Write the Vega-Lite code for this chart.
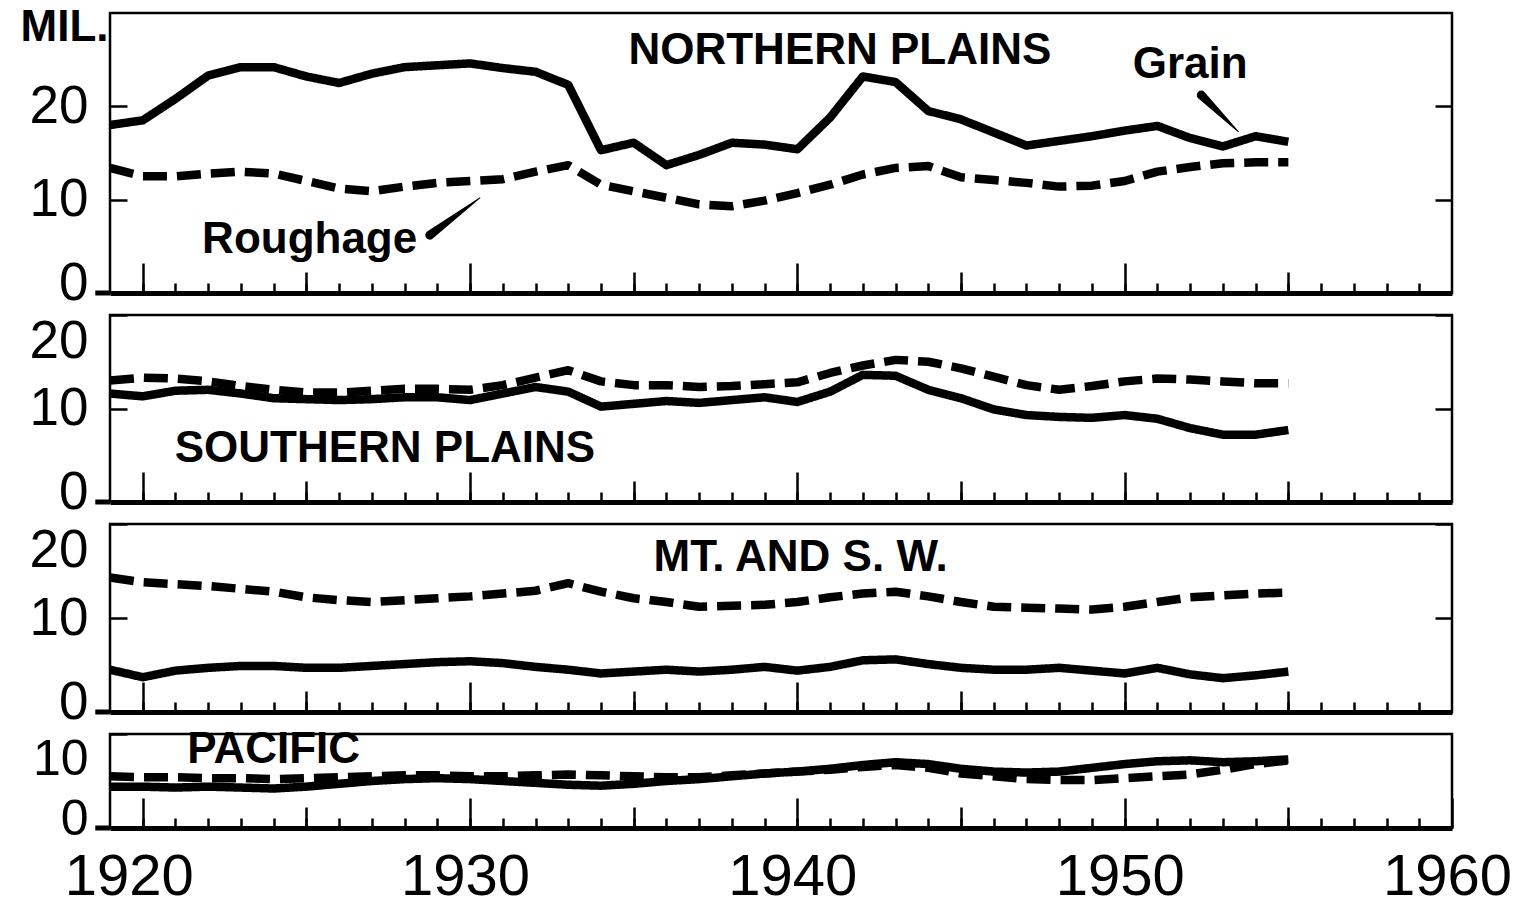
{
"$schema": "https://vega.github.io/schema/vega-lite/v6.json",
"padding": {"left": 18, "top": 3, "right": 10, "bottom": 0},
"background": "white",
"spacing": 22,
"bounds": "flush",
"config": {"view": {"stroke": "black", "strokeWidth": 2.5}, "axis": {"grid": false, "labelColor": "black", "tickColor": "black", "titleColor": "black", "labelFont": "Liberation Sans"}},
"datasets": {
"series": [
{"reg":"NP","feed":"Grain","year":1919,"mil":18.0},{"reg":"NP","feed":"Grain","year":1920,"mil":18.5},{"reg":"NP","feed":"Grain","year":1921,"mil":20.8},{"reg":"NP","feed":"Grain","year":1922,"mil":23.3},{"reg":"NP","feed":"Grain","year":1923,"mil":24.2},{"reg":"NP","feed":"Grain","year":1924,"mil":24.2},{"reg":"NP","feed":"Grain","year":1925,"mil":23.2},{"reg":"NP","feed":"Grain","year":1926,"mil":22.5},{"reg":"NP","feed":"Grain","year":1927,"mil":23.5},{"reg":"NP","feed":"Grain","year":1928,"mil":24.2},{"reg":"NP","feed":"Grain","year":1929,"mil":24.4},{"reg":"NP","feed":"Grain","year":1930,"mil":24.6},{"reg":"NP","feed":"Grain","year":1931,"mil":24.1},{"reg":"NP","feed":"Grain","year":1932,"mil":23.7},{"reg":"NP","feed":"Grain","year":1933,"mil":22.3},{"reg":"NP","feed":"Grain","year":1934,"mil":15.3},{"reg":"NP","feed":"Grain","year":1935,"mil":16.1},{"reg":"NP","feed":"Grain","year":1936,"mil":13.7},{"reg":"NP","feed":"Grain","year":1937,"mil":14.8},{"reg":"NP","feed":"Grain","year":1938,"mil":16.1},{"reg":"NP","feed":"Grain","year":1939,"mil":15.9},{"reg":"NP","feed":"Grain","year":1940,"mil":15.4},{"reg":"NP","feed":"Grain","year":1941,"mil":18.8},{"reg":"NP","feed":"Grain","year":1942,"mil":23.2},{"reg":"NP","feed":"Grain","year":1943,"mil":22.6},{"reg":"NP","feed":"Grain","year":1944,"mil":19.5},{"reg":"NP","feed":"Grain","year":1945,"mil":18.6},{"reg":"NP","feed":"Grain","year":1946,"mil":17.2},{"reg":"NP","feed":"Grain","year":1947,"mil":15.8},{"reg":"NP","feed":"Grain","year":1948,"mil":16.3},{"reg":"NP","feed":"Grain","year":1949,"mil":16.8},{"reg":"NP","feed":"Grain","year":1950,"mil":17.4},{"reg":"NP","feed":"Grain","year":1951,"mil":17.9},{"reg":"NP","feed":"Grain","year":1952,"mil":16.6},{"reg":"NP","feed":"Grain","year":1953,"mil":15.7},{"reg":"NP","feed":"Grain","year":1954,"mil":16.8},{"reg":"NP","feed":"Grain","year":1955,"mil":16.2},
{"reg":"NP","feed":"Roughage","year":1919,"mil":13.4},{"reg":"NP","feed":"Roughage","year":1920,"mil":12.5},{"reg":"NP","feed":"Roughage","year":1921,"mil":12.5},{"reg":"NP","feed":"Roughage","year":1922,"mil":12.8},{"reg":"NP","feed":"Roughage","year":1923,"mil":13.0},{"reg":"NP","feed":"Roughage","year":1924,"mil":12.8},{"reg":"NP","feed":"Roughage","year":1925,"mil":12.0},{"reg":"NP","feed":"Roughage","year":1926,"mil":11.2},{"reg":"NP","feed":"Roughage","year":1927,"mil":10.9},{"reg":"NP","feed":"Roughage","year":1928,"mil":11.4},{"reg":"NP","feed":"Roughage","year":1929,"mil":11.8},{"reg":"NP","feed":"Roughage","year":1930,"mil":12.0},{"reg":"NP","feed":"Roughage","year":1931,"mil":12.2},{"reg":"NP","feed":"Roughage","year":1932,"mil":13.0},{"reg":"NP","feed":"Roughage","year":1933,"mil":13.7},{"reg":"NP","feed":"Roughage","year":1934,"mil":11.6},{"reg":"NP","feed":"Roughage","year":1935,"mil":10.9},{"reg":"NP","feed":"Roughage","year":1936,"mil":10.2},{"reg":"NP","feed":"Roughage","year":1937,"mil":9.5},{"reg":"NP","feed":"Roughage","year":1938,"mil":9.3},{"reg":"NP","feed":"Roughage","year":1939,"mil":9.9},{"reg":"NP","feed":"Roughage","year":1940,"mil":10.7},{"reg":"NP","feed":"Roughage","year":1941,"mil":11.6},{"reg":"NP","feed":"Roughage","year":1942,"mil":12.7},{"reg":"NP","feed":"Roughage","year":1943,"mil":13.4},{"reg":"NP","feed":"Roughage","year":1944,"mil":13.6},{"reg":"NP","feed":"Roughage","year":1945,"mil":12.4},{"reg":"NP","feed":"Roughage","year":1946,"mil":12.1},{"reg":"NP","feed":"Roughage","year":1947,"mil":11.8},{"reg":"NP","feed":"Roughage","year":1948,"mil":11.4},{"reg":"NP","feed":"Roughage","year":1949,"mil":11.5},{"reg":"NP","feed":"Roughage","year":1950,"mil":12.0},{"reg":"NP","feed":"Roughage","year":1951,"mil":13.0},{"reg":"NP","feed":"Roughage","year":1952,"mil":13.5},{"reg":"NP","feed":"Roughage","year":1953,"mil":13.9},{"reg":"NP","feed":"Roughage","year":1954,"mil":14.0},{"reg":"NP","feed":"Roughage","year":1955,"mil":14.0},
{"reg":"SP","feed":"Grain","year":1919,"mil":11.6},{"reg":"SP","feed":"Grain","year":1920,"mil":11.3},{"reg":"SP","feed":"Grain","year":1921,"mil":11.9},{"reg":"SP","feed":"Grain","year":1922,"mil":12.0},{"reg":"SP","feed":"Grain","year":1923,"mil":11.6},{"reg":"SP","feed":"Grain","year":1924,"mil":11.1},{"reg":"SP","feed":"Grain","year":1925,"mil":11.0},{"reg":"SP","feed":"Grain","year":1926,"mil":10.9},{"reg":"SP","feed":"Grain","year":1927,"mil":11.0},{"reg":"SP","feed":"Grain","year":1928,"mil":11.2},{"reg":"SP","feed":"Grain","year":1929,"mil":11.2},{"reg":"SP","feed":"Grain","year":1930,"mil":10.9},{"reg":"SP","feed":"Grain","year":1931,"mil":11.6},{"reg":"SP","feed":"Grain","year":1932,"mil":12.3},{"reg":"SP","feed":"Grain","year":1933,"mil":11.8},{"reg":"SP","feed":"Grain","year":1934,"mil":10.2},{"reg":"SP","feed":"Grain","year":1935,"mil":10.5},{"reg":"SP","feed":"Grain","year":1936,"mil":10.8},{"reg":"SP","feed":"Grain","year":1937,"mil":10.6},{"reg":"SP","feed":"Grain","year":1938,"mil":10.9},{"reg":"SP","feed":"Grain","year":1939,"mil":11.2},{"reg":"SP","feed":"Grain","year":1940,"mil":10.7},{"reg":"SP","feed":"Grain","year":1941,"mil":11.8},{"reg":"SP","feed":"Grain","year":1942,"mil":13.6},{"reg":"SP","feed":"Grain","year":1943,"mil":13.5},{"reg":"SP","feed":"Grain","year":1944,"mil":12.0},{"reg":"SP","feed":"Grain","year":1945,"mil":11.1},{"reg":"SP","feed":"Grain","year":1946,"mil":9.9},{"reg":"SP","feed":"Grain","year":1947,"mil":9.3},{"reg":"SP","feed":"Grain","year":1948,"mil":9.1},{"reg":"SP","feed":"Grain","year":1949,"mil":9.0},{"reg":"SP","feed":"Grain","year":1950,"mil":9.3},{"reg":"SP","feed":"Grain","year":1951,"mil":8.9},{"reg":"SP","feed":"Grain","year":1952,"mil":7.9},{"reg":"SP","feed":"Grain","year":1953,"mil":7.2},{"reg":"SP","feed":"Grain","year":1954,"mil":7.2},{"reg":"SP","feed":"Grain","year":1955,"mil":7.7},
{"reg":"SP","feed":"Roughage","year":1919,"mil":13.0},{"reg":"SP","feed":"Roughage","year":1920,"mil":13.3},{"reg":"SP","feed":"Roughage","year":1921,"mil":13.2},{"reg":"SP","feed":"Roughage","year":1922,"mil":12.9},{"reg":"SP","feed":"Roughage","year":1923,"mil":12.4},{"reg":"SP","feed":"Roughage","year":1924,"mil":12.0},{"reg":"SP","feed":"Roughage","year":1925,"mil":11.7},{"reg":"SP","feed":"Roughage","year":1926,"mil":11.7},{"reg":"SP","feed":"Roughage","year":1927,"mil":11.9},{"reg":"SP","feed":"Roughage","year":1928,"mil":12.1},{"reg":"SP","feed":"Roughage","year":1929,"mil":12.1},{"reg":"SP","feed":"Roughage","year":1930,"mil":12.0},{"reg":"SP","feed":"Roughage","year":1931,"mil":12.5},{"reg":"SP","feed":"Roughage","year":1932,"mil":13.3},{"reg":"SP","feed":"Roughage","year":1933,"mil":14.1},{"reg":"SP","feed":"Roughage","year":1934,"mil":12.9},{"reg":"SP","feed":"Roughage","year":1935,"mil":12.5},{"reg":"SP","feed":"Roughage","year":1936,"mil":12.5},{"reg":"SP","feed":"Roughage","year":1937,"mil":12.3},{"reg":"SP","feed":"Roughage","year":1938,"mil":12.4},{"reg":"SP","feed":"Roughage","year":1939,"mil":12.6},{"reg":"SP","feed":"Roughage","year":1940,"mil":12.8},{"reg":"SP","feed":"Roughage","year":1941,"mil":13.8},{"reg":"SP","feed":"Roughage","year":1942,"mil":14.6},{"reg":"SP","feed":"Roughage","year":1943,"mil":15.2},{"reg":"SP","feed":"Roughage","year":1944,"mil":15.0},{"reg":"SP","feed":"Roughage","year":1945,"mil":14.3},{"reg":"SP","feed":"Roughage","year":1946,"mil":13.4},{"reg":"SP","feed":"Roughage","year":1947,"mil":12.5},{"reg":"SP","feed":"Roughage","year":1948,"mil":12.0},{"reg":"SP","feed":"Roughage","year":1949,"mil":12.4},{"reg":"SP","feed":"Roughage","year":1950,"mil":12.9},{"reg":"SP","feed":"Roughage","year":1951,"mil":13.2},{"reg":"SP","feed":"Roughage","year":1952,"mil":13.1},{"reg":"SP","feed":"Roughage","year":1953,"mil":12.9},{"reg":"SP","feed":"Roughage","year":1954,"mil":12.7},{"reg":"SP","feed":"Roughage","year":1955,"mil":12.7},
{"reg":"MSW","feed":"Grain","year":1919,"mil":4.5},{"reg":"MSW","feed":"Grain","year":1920,"mil":3.7},{"reg":"MSW","feed":"Grain","year":1921,"mil":4.4},{"reg":"MSW","feed":"Grain","year":1922,"mil":4.7},{"reg":"MSW","feed":"Grain","year":1923,"mil":4.9},{"reg":"MSW","feed":"Grain","year":1924,"mil":4.9},{"reg":"MSW","feed":"Grain","year":1925,"mil":4.7},{"reg":"MSW","feed":"Grain","year":1926,"mil":4.7},{"reg":"MSW","feed":"Grain","year":1927,"mil":4.9},{"reg":"MSW","feed":"Grain","year":1928,"mil":5.1},{"reg":"MSW","feed":"Grain","year":1929,"mil":5.3},{"reg":"MSW","feed":"Grain","year":1930,"mil":5.4},{"reg":"MSW","feed":"Grain","year":1931,"mil":5.2},{"reg":"MSW","feed":"Grain","year":1932,"mil":4.8},{"reg":"MSW","feed":"Grain","year":1933,"mil":4.5},{"reg":"MSW","feed":"Grain","year":1934,"mil":4.1},{"reg":"MSW","feed":"Grain","year":1935,"mil":4.3},{"reg":"MSW","feed":"Grain","year":1936,"mil":4.5},{"reg":"MSW","feed":"Grain","year":1937,"mil":4.3},{"reg":"MSW","feed":"Grain","year":1938,"mil":4.5},{"reg":"MSW","feed":"Grain","year":1939,"mil":4.8},{"reg":"MSW","feed":"Grain","year":1940,"mil":4.4},{"reg":"MSW","feed":"Grain","year":1941,"mil":4.8},{"reg":"MSW","feed":"Grain","year":1942,"mil":5.5},{"reg":"MSW","feed":"Grain","year":1943,"mil":5.6},{"reg":"MSW","feed":"Grain","year":1944,"mil":5.1},{"reg":"MSW","feed":"Grain","year":1945,"mil":4.7},{"reg":"MSW","feed":"Grain","year":1946,"mil":4.5},{"reg":"MSW","feed":"Grain","year":1947,"mil":4.5},{"reg":"MSW","feed":"Grain","year":1948,"mil":4.7},{"reg":"MSW","feed":"Grain","year":1949,"mil":4.4},{"reg":"MSW","feed":"Grain","year":1950,"mil":4.1},{"reg":"MSW","feed":"Grain","year":1951,"mil":4.7},{"reg":"MSW","feed":"Grain","year":1952,"mil":4.0},{"reg":"MSW","feed":"Grain","year":1953,"mil":3.6},{"reg":"MSW","feed":"Grain","year":1954,"mil":3.9},{"reg":"MSW","feed":"Grain","year":1955,"mil":4.3},
{"reg":"MSW","feed":"Roughage","year":1919,"mil":14.3},{"reg":"MSW","feed":"Roughage","year":1920,"mil":13.8},{"reg":"MSW","feed":"Roughage","year":1921,"mil":13.6},{"reg":"MSW","feed":"Roughage","year":1922,"mil":13.4},{"reg":"MSW","feed":"Roughage","year":1923,"mil":13.1},{"reg":"MSW","feed":"Roughage","year":1924,"mil":12.8},{"reg":"MSW","feed":"Roughage","year":1925,"mil":12.2},{"reg":"MSW","feed":"Roughage","year":1926,"mil":11.9},{"reg":"MSW","feed":"Roughage","year":1927,"mil":11.7},{"reg":"MSW","feed":"Roughage","year":1928,"mil":11.9},{"reg":"MSW","feed":"Roughage","year":1929,"mil":12.1},{"reg":"MSW","feed":"Roughage","year":1930,"mil":12.3},{"reg":"MSW","feed":"Roughage","year":1931,"mil":12.6},{"reg":"MSW","feed":"Roughage","year":1932,"mil":12.9},{"reg":"MSW","feed":"Roughage","year":1933,"mil":13.7},{"reg":"MSW","feed":"Roughage","year":1934,"mil":12.8},{"reg":"MSW","feed":"Roughage","year":1935,"mil":12.1},{"reg":"MSW","feed":"Roughage","year":1936,"mil":11.7},{"reg":"MSW","feed":"Roughage","year":1937,"mil":11.2},{"reg":"MSW","feed":"Roughage","year":1938,"mil":11.3},{"reg":"MSW","feed":"Roughage","year":1939,"mil":11.4},{"reg":"MSW","feed":"Roughage","year":1940,"mil":11.7},{"reg":"MSW","feed":"Roughage","year":1941,"mil":12.2},{"reg":"MSW","feed":"Roughage","year":1942,"mil":12.6},{"reg":"MSW","feed":"Roughage","year":1943,"mil":12.8},{"reg":"MSW","feed":"Roughage","year":1944,"mil":12.3},{"reg":"MSW","feed":"Roughage","year":1945,"mil":11.7},{"reg":"MSW","feed":"Roughage","year":1946,"mil":11.2},{"reg":"MSW","feed":"Roughage","year":1947,"mil":11.1},{"reg":"MSW","feed":"Roughage","year":1948,"mil":11.0},{"reg":"MSW","feed":"Roughage","year":1949,"mil":10.9},{"reg":"MSW","feed":"Roughage","year":1950,"mil":11.2},{"reg":"MSW","feed":"Roughage","year":1951,"mil":11.7},{"reg":"MSW","feed":"Roughage","year":1952,"mil":12.2},{"reg":"MSW","feed":"Roughage","year":1953,"mil":12.4},{"reg":"MSW","feed":"Roughage","year":1954,"mil":12.6},{"reg":"MSW","feed":"Roughage","year":1955,"mil":12.7},
{"reg":"PAC","feed":"Grain","year":1919,"mil":4.4},{"reg":"PAC","feed":"Grain","year":1920,"mil":4.4},{"reg":"PAC","feed":"Grain","year":1921,"mil":4.3},{"reg":"PAC","feed":"Grain","year":1922,"mil":4.4},{"reg":"PAC","feed":"Grain","year":1923,"mil":4.3},{"reg":"PAC","feed":"Grain","year":1924,"mil":4.2},{"reg":"PAC","feed":"Grain","year":1925,"mil":4.4},{"reg":"PAC","feed":"Grain","year":1926,"mil":4.7},{"reg":"PAC","feed":"Grain","year":1927,"mil":5.0},{"reg":"PAC","feed":"Grain","year":1928,"mil":5.2},{"reg":"PAC","feed":"Grain","year":1929,"mil":5.3},{"reg":"PAC","feed":"Grain","year":1930,"mil":5.2},{"reg":"PAC","feed":"Grain","year":1931,"mil":5.0},{"reg":"PAC","feed":"Grain","year":1932,"mil":4.8},{"reg":"PAC","feed":"Grain","year":1933,"mil":4.6},{"reg":"PAC","feed":"Grain","year":1934,"mil":4.5},{"reg":"PAC","feed":"Grain","year":1935,"mil":4.7},{"reg":"PAC","feed":"Grain","year":1936,"mil":5.0},{"reg":"PAC","feed":"Grain","year":1937,"mil":5.2},{"reg":"PAC","feed":"Grain","year":1938,"mil":5.5},{"reg":"PAC","feed":"Grain","year":1939,"mil":5.8},{"reg":"PAC","feed":"Grain","year":1940,"mil":6.0},{"reg":"PAC","feed":"Grain","year":1941,"mil":6.3},{"reg":"PAC","feed":"Grain","year":1942,"mil":6.7},{"reg":"PAC","feed":"Grain","year":1943,"mil":7.0},{"reg":"PAC","feed":"Grain","year":1944,"mil":6.8},{"reg":"PAC","feed":"Grain","year":1945,"mil":6.3},{"reg":"PAC","feed":"Grain","year":1946,"mil":6.0},{"reg":"PAC","feed":"Grain","year":1947,"mil":5.9},{"reg":"PAC","feed":"Grain","year":1948,"mil":6.0},{"reg":"PAC","feed":"Grain","year":1949,"mil":6.4},{"reg":"PAC","feed":"Grain","year":1950,"mil":6.8},{"reg":"PAC","feed":"Grain","year":1951,"mil":7.1},{"reg":"PAC","feed":"Grain","year":1952,"mil":7.2},{"reg":"PAC","feed":"Grain","year":1953,"mil":7.0},{"reg":"PAC","feed":"Grain","year":1954,"mil":7.1},{"reg":"PAC","feed":"Grain","year":1955,"mil":7.3},
{"reg":"PAC","feed":"Roughage","year":1919,"mil":5.5},{"reg":"PAC","feed":"Roughage","year":1920,"mil":5.4},{"reg":"PAC","feed":"Roughage","year":1921,"mil":5.4},{"reg":"PAC","feed":"Roughage","year":1922,"mil":5.3},{"reg":"PAC","feed":"Roughage","year":1923,"mil":5.3},{"reg":"PAC","feed":"Roughage","year":1924,"mil":5.2},{"reg":"PAC","feed":"Roughage","year":1925,"mil":5.3},{"reg":"PAC","feed":"Roughage","year":1926,"mil":5.4},{"reg":"PAC","feed":"Roughage","year":1927,"mil":5.5},{"reg":"PAC","feed":"Roughage","year":1928,"mil":5.6},{"reg":"PAC","feed":"Roughage","year":1929,"mil":5.6},{"reg":"PAC","feed":"Roughage","year":1930,"mil":5.5},{"reg":"PAC","feed":"Roughage","year":1931,"mil":5.5},{"reg":"PAC","feed":"Roughage","year":1932,"mil":5.6},{"reg":"PAC","feed":"Roughage","year":1933,"mil":5.7},{"reg":"PAC","feed":"Roughage","year":1934,"mil":5.6},{"reg":"PAC","feed":"Roughage","year":1935,"mil":5.5},{"reg":"PAC","feed":"Roughage","year":1936,"mil":5.4},{"reg":"PAC","feed":"Roughage","year":1937,"mil":5.4},{"reg":"PAC","feed":"Roughage","year":1938,"mil":5.6},{"reg":"PAC","feed":"Roughage","year":1939,"mil":5.8},{"reg":"PAC","feed":"Roughage","year":1940,"mil":6.0},{"reg":"PAC","feed":"Roughage","year":1941,"mil":6.2},{"reg":"PAC","feed":"Roughage","year":1942,"mil":6.5},{"reg":"PAC","feed":"Roughage","year":1943,"mil":6.7},{"reg":"PAC","feed":"Roughage","year":1944,"mil":6.4},{"reg":"PAC","feed":"Roughage","year":1945,"mil":5.8},{"reg":"PAC","feed":"Roughage","year":1946,"mil":5.5},{"reg":"PAC","feed":"Roughage","year":1947,"mil":5.2},{"reg":"PAC","feed":"Roughage","year":1948,"mil":5.1},{"reg":"PAC","feed":"Roughage","year":1949,"mil":5.1},{"reg":"PAC","feed":"Roughage","year":1950,"mil":5.3},{"reg":"PAC","feed":"Roughage","year":1951,"mil":5.5},{"reg":"PAC","feed":"Roughage","year":1952,"mil":5.7},{"reg":"PAC","feed":"Roughage","year":1953,"mil":6.2},{"reg":"PAC","feed":"Roughage","year":1954,"mil":6.8},{"reg":"PAC","feed":"Roughage","year":1955,"mil":7.2}
],
"notes": [
{"reg":"NP","label":"NORTHERN PLAINS","year":1941.3,"mil":25.9},
{"reg":"NP","label":"Grain","year":1952.0,"mil":24.4},
{"reg":"NP","label":"Roughage","year":1925.1,"mil":5.7},
{"reg":"SP","label":"SOUTHERN PLAINS","year":1927.4,"mil":5.7},
{"reg":"MSW","label":"MT. AND S. W.","year":1940.1,"mil":16.4},
{"reg":"PAC","label":"PACIFIC","year":1924.0,"mil":8.3}
],
"pointers": [
{"reg":"NP","ptr":"Grain","part":"base","year":1952.34,"mil":21.2},
{"reg":"NP","ptr":"Grain","part":"tip","year":1953.47,"mil":17.3},
{"reg":"NP","ptr":"Roughage","part":"base","year":1928.77,"mil":6.2},
{"reg":"NP","ptr":"Roughage","part":"tip","year":1930.3,"mil":10.2}
]
},
"vconcat": [
{
"width": 1342, "height": 280,
"resolve": {"axis": {"x": "independent", "y": "independent"}},
"layer": [
{"data": {"name": "series"}, "transform": [{"filter": "datum.reg == 'NP'"}],
 "mark": {"type": "line", "color": "black", "strokeWidth": 8.5, "strokeJoin": "round"},
 "encoding": {
  "x": {"field": "year", "type": "quantitative", "scale": {"domain": [1919, 1960], "nice": false, "zero": false},
   "axis": {"orient": "bottom", "values": [1920,1921,1922,1923,1924,1925,1926,1927,1928,1929,1930,1931,1932,1933,1934,1935,1936,1937,1938,1939,1940,1941,1942,1943,1944,1945,1946,1947,1948,1949,1950,1951,1952,1953,1954,1955,1956,1957,1958,1959], "labels": false, "title": null, "domain": true, "domainWidth": 5, "domainColor": "black", "tickSize": -10, "tickWidth": 2.5}},
  "y": {"field": "mil", "type": "quantitative", "scale": {"domain": [0, 30], "nice": false},
   "axis": {"values": [0, 10, 20], "tickSize": -17, "tickWidth": 2.5, "domain": false, "labelFontSize": 53, "labelPadding": 39,
    "labelOffset": {"condition": {"test": "datum.value == 0", "value": -10}, "value": 0},
    "title": "MIL.", "titleAngle": 0, "titleFontSize": 44, "titleFontWeight": "bold", "titleFont": "Liberation Sans", "titleAlign": "left", "titleBaseline": "alphabetic", "titleX": -90, "titleY": 27}},
  "strokeDash": {"field": "feed", "type": "nominal", "scale": {"domain": ["Grain", "Roughage"], "range": [[1, 0], [24, 10]]}, "legend": null}
 }},
{"data": {"name": "pointers"}, "transform": [{"filter": "datum.reg == 'NP'"}],
 "mark": {"type": "trail", "color": "black"},
 "encoding": {
  "x": {"field": "year", "type": "quantitative", "scale": {"domain": [1919, 1960], "nice": false, "zero": false}, "axis": null},
  "y": {"field": "mil", "type": "quantitative", "scale": {"domain": [0, 30], "nice": false}, "axis": null},
  "detail": {"field": "ptr", "type": "nominal"},
  "size": {"field": "part", "type": "ordinal", "scale": {"domain": ["base", "tip"], "range": [9, 1]}, "legend": null}
 }},
{"data": {"name": "notes"}, "transform": [{"filter": "datum.reg == 'NP'"}],
 "mark": {"type": "text", "fontSize": 44, "fontWeight": "bold", "font": "Liberation Sans", "color": "black"},
 "encoding": {
  "x": {"field": "year", "type": "quantitative", "scale": {"domain": [1919, 1960], "nice": false, "zero": false},
   "axis": {"orient": "bottom", "values": [1925, 1935, 1945, 1955], "labels": false, "title": null, "domain": false, "tickSize": -21, "tickWidth": 2.5}},
  "y": {"field": "mil", "type": "quantitative", "scale": {"domain": [0, 30], "nice": false},
   "axis": {"orient": "right", "values": [10, 20], "labels": false, "tickSize": -17, "tickWidth": 2.5, "title": null, "domain": false}},
  "text": {"field": "label"}
 }},
{"data": {"values": [{}]},
 "mark": {"type": "rule", "color": "black", "strokeWidth": 5},
 "encoding": {"x": {"datum": 1918.55, "scale": {"domain": [1919, 1960], "nice": false, "zero": false},
   "axis": {"orient": "bottom", "values": [1920, 1930, 1940, 1950], "labels": false, "title": null, "domain": false, "tickSize": -30, "tickWidth": 2.5}},
  "x2": {"datum": 1919}, "y": {"datum": 0, "axis": null}}}
]
},
{
"width": 1342, "height": 187,
"resolve": {"axis": {"x": "independent", "y": "independent"}},
"layer": [
{"data": {"name": "series"}, "transform": [{"filter": "datum.reg == 'SP'"}],
 "mark": {"type": "line", "color": "black", "strokeWidth": 8.5, "strokeJoin": "round"},
 "encoding": {
  "x": {"field": "year", "type": "quantitative", "scale": {"domain": [1919, 1960], "nice": false, "zero": false},
   "axis": {"orient": "bottom", "values": [1920,1921,1922,1923,1924,1925,1926,1927,1928,1929,1930,1931,1932,1933,1934,1935,1936,1937,1938,1939,1940,1941,1942,1943,1944,1945,1946,1947,1948,1949,1950,1951,1952,1953,1954,1955,1956,1957,1958,1959], "labels": false, "title": null, "domain": true, "domainWidth": 5, "domainColor": "black", "tickSize": -10, "tickWidth": 2.5}},
  "y": {"field": "mil", "type": "quantitative", "scale": {"domain": [0, 20], "nice": false},
   "axis": {"values": [0, 10, 20], "tickSize": -17, "tickWidth": 2.5, "domain": false, "labelFontSize": 53, "labelPadding": 39, "title": null,
    "labelOffset": {"condition": {"test": "datum.value == 0", "value": -10}, "value": 0},
    "labelBaseline": {"condition": {"test": "datum.value == 20", "value": "top"}, "value": "middle"}}},
  "strokeDash": {"field": "feed", "type": "nominal", "scale": {"domain": ["Grain", "Roughage"], "range": [[1, 0], [24, 10]]}, "legend": null}
 }},
{"data": {"name": "notes"}, "transform": [{"filter": "datum.reg == 'SP'"}],
 "mark": {"type": "text", "fontSize": 44, "fontWeight": "bold", "font": "Liberation Sans", "color": "black"},
 "encoding": {
  "x": {"field": "year", "type": "quantitative", "scale": {"domain": [1919, 1960], "nice": false, "zero": false},
   "axis": {"orient": "bottom", "values": [1925, 1935, 1945, 1955], "labels": false, "title": null, "domain": false, "tickSize": -21, "tickWidth": 2.5}},
  "y": {"field": "mil", "type": "quantitative", "scale": {"domain": [0, 20], "nice": false},
   "axis": {"orient": "right", "values": [10, 20], "labels": false, "tickSize": -17, "tickWidth": 2.5, "title": null, "domain": false}},
  "text": {"field": "label"}
 }},
{"data": {"values": [{}]},
 "mark": {"type": "rule", "color": "black", "strokeWidth": 5},
 "encoding": {"x": {"datum": 1918.55, "scale": {"domain": [1919, 1960], "nice": false, "zero": false},
   "axis": {"orient": "bottom", "values": [1920, 1930, 1940, 1950], "labels": false, "title": null, "domain": false, "tickSize": -30, "tickWidth": 2.5}},
  "x2": {"datum": 1919}, "y": {"datum": 0, "axis": null}}}
]
},
{
"width": 1342, "height": 188,
"resolve": {"axis": {"x": "independent", "y": "independent"}},
"layer": [
{"data": {"name": "series"}, "transform": [{"filter": "datum.reg == 'MSW'"}],
 "mark": {"type": "line", "color": "black", "strokeWidth": 8.5, "strokeJoin": "round"},
 "encoding": {
  "x": {"field": "year", "type": "quantitative", "scale": {"domain": [1919, 1960], "nice": false, "zero": false},
   "axis": {"orient": "bottom", "values": [1920,1921,1922,1923,1924,1925,1926,1927,1928,1929,1930,1931,1932,1933,1934,1935,1936,1937,1938,1939,1940,1941,1942,1943,1944,1945,1946,1947,1948,1949,1950,1951,1952,1953,1954,1955,1956,1957,1958,1959], "labels": false, "title": null, "domain": true, "domainWidth": 5, "domainColor": "black", "tickSize": -10, "tickWidth": 2.5}},
  "y": {"field": "mil", "type": "quantitative", "scale": {"domain": [0, 20], "nice": false},
   "axis": {"values": [0, 10, 20], "tickSize": -17, "tickWidth": 2.5, "domain": false, "labelFontSize": 53, "labelPadding": 39, "title": null,
    "labelOffset": {"condition": {"test": "datum.value == 0", "value": -10}, "value": 0},
    "labelBaseline": {"condition": {"test": "datum.value == 20", "value": "top"}, "value": "middle"}}},
  "strokeDash": {"field": "feed", "type": "nominal", "scale": {"domain": ["Grain", "Roughage"], "range": [[1, 0], [24, 10]]}, "legend": null}
 }},
{"data": {"name": "notes"}, "transform": [{"filter": "datum.reg == 'MSW'"}],
 "mark": {"type": "text", "fontSize": 44, "fontWeight": "bold", "font": "Liberation Sans", "color": "black"},
 "encoding": {
  "x": {"field": "year", "type": "quantitative", "scale": {"domain": [1919, 1960], "nice": false, "zero": false},
   "axis": {"orient": "bottom", "values": [1925, 1935, 1945, 1955], "labels": false, "title": null, "domain": false, "tickSize": -21, "tickWidth": 2.5}},
  "y": {"field": "mil", "type": "quantitative", "scale": {"domain": [0, 20], "nice": false},
   "axis": {"orient": "right", "values": [10, 20], "labels": false, "tickSize": -17, "tickWidth": 2.5, "title": null, "domain": false}},
  "text": {"field": "label"}
 }},
{"data": {"values": [{}]},
 "mark": {"type": "rule", "color": "black", "strokeWidth": 5},
 "encoding": {"x": {"datum": 1918.55, "scale": {"domain": [1919, 1960], "nice": false, "zero": false},
   "axis": {"orient": "bottom", "values": [1920, 1930, 1940, 1950], "labels": false, "title": null, "domain": false, "tickSize": -30, "tickWidth": 2.5}},
  "x2": {"datum": 1919}, "y": {"datum": 0, "axis": null}}}
]
},
{
"width": 1342, "height": 94,
"resolve": {"axis": {"x": "independent", "y": "independent"}},
"layer": [
{"data": {"name": "series"}, "transform": [{"filter": "datum.reg == 'PAC'"}],
 "mark": {"type": "line", "color": "black", "strokeWidth": 8.5, "strokeJoin": "round"},
 "encoding": {
  "x": {"field": "year", "type": "quantitative", "scale": {"domain": [1919, 1960], "nice": false, "zero": false},
   "axis": {"orient": "bottom", "values": [1920,1921,1922,1923,1924,1925,1926,1927,1928,1929,1930,1931,1932,1933,1934,1935,1936,1937,1938,1939,1940,1941,1942,1943,1944,1945,1946,1947,1948,1949,1950,1951,1952,1953,1954,1955,1956,1957,1958,1959], "labels": false, "title": null, "domain": true, "domainWidth": 5, "domainColor": "black", "tickSize": -10, "tickWidth": 2.5}},
  "y": {"field": "mil", "type": "quantitative", "scale": {"domain": [0, 10], "nice": false},
   "axis": {"values": [0, 10], "tickSize": -17, "tickWidth": 2.5, "domain": false, "labelFontSize": 50, "labelPadding": 39, "title": null,
    "labelOffset": {"condition": {"test": "datum.value == 0", "value": -9}, "value": 0},
    "labelBaseline": {"condition": {"test": "datum.value == 10", "value": "top"}, "value": "middle"}}},
  "strokeDash": {"field": "feed", "type": "nominal", "scale": {"domain": ["Grain", "Roughage"], "range": [[1, 0], [24, 10]]}, "legend": null}
 }},
{"data": {"name": "notes"}, "transform": [{"filter": "datum.reg == 'PAC'"}],
 "mark": {"type": "text", "fontSize": 44, "fontWeight": "bold", "font": "Liberation Sans", "color": "black"},
 "encoding": {
  "x": {"field": "year", "type": "quantitative", "scale": {"domain": [1919, 1960], "nice": false, "zero": false},
   "axis": {"orient": "bottom", "values": [1925, 1935, 1945, 1955], "labels": false, "title": null, "domain": false, "tickSize": -21, "tickWidth": 2.5}},
  "y": {"field": "mil", "type": "quantitative", "scale": {"domain": [0, 10], "nice": false}, "axis": null},
  "text": {"field": "label"}
 }},
{"data": {"values": [{}]},
 "mark": {"type": "rule", "color": "black", "strokeWidth": 5},
 "encoding": {"x": {"datum": 1918.55, "scale": {"domain": [1919, 1960], "nice": false, "zero": false},
   "axis": {"orient": "bottom", "values": [1920, 1930, 1940, 1950, 1960], "format": "d", "labelFont": "Liberation Sans", "labelFontSize": 58, "labelPadding": 50,
    "labelOffset": {"condition": {"test": "datum.value == 1920", "value": -14}, "value": -5},
    "labelFlush": false, "labelOverlap": false, "labelBound": false, "title": null, "domain": false, "tickSize": -30, "tickWidth": 2.5}},
  "x2": {"datum": 1919}, "y": {"datum": 0, "axis": null}}}
]
}
]
}
